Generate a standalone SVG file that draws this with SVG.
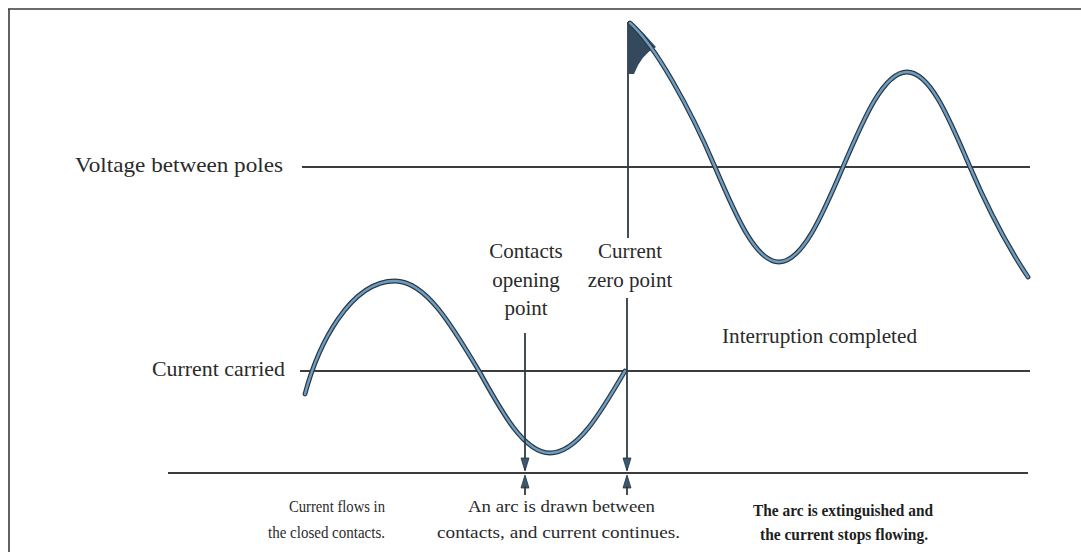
<svg xmlns="http://www.w3.org/2000/svg" xmlns:xlink="http://www.w3.org/1999/xlink" width="1081" height="552" viewBox="0 0 1081 552">
<style>
.frame{stroke:#3a3a3a;stroke-width:1.6;fill:none}
.axis{stroke:#3c3c3c;stroke-width:2;fill:none}
.mk{stroke:#2e3a46;stroke-width:1.8;fill:none}
.head{fill:#3b5870;stroke:#26323e;stroke-width:0.8}
.wout{stroke:#2a3744;stroke-width:4.8;fill:none;stroke-linecap:round}
.win{stroke:#6d9dc0;stroke-width:2.4;fill:none;stroke-linecap:round}
.t{font-family:"Liberation Serif","Times New Roman",serif;fill:#2a2a2a}
.l{font-size:22px}
.m{font-size:21px}
.s{font-size:16px}
.b{font-size:16px;font-weight:bold;fill:#1e1e1e}
</style>
<defs>
<path id="vwave" d="M630,23 C655,45 690,108 715,167 C735.8,215.7 755.7,262 779,262 C802.1,262 822.2,215.7 843,167 C863.8,118.3 883.7,72 907,72 C930.1,72 949.2,118.3 970,167 C990.8,215.7 1010,250 1028,277"/>
<path id="iwave" d="M305,394 C318,345 350,281 395,281 C425.4,281 451.6,324.9 479,371 C502.2,413 524.3,453 550,453 C577.2,453 600.5,413 625,371"/>
</defs>
<rect width="1081" height="552" fill="#ffffff"/>
<g id="frame">
<line class="frame" x1="8" y1="9" x2="1081" y2="9"/>
<line class="frame" x1="9" y1="9" x2="9" y2="552"/>
</g>
<g id="axes">
<line class="axis" x1="302" y1="167" x2="1030" y2="167"/>
<line class="axis" x1="300" y1="371" x2="1030" y2="371"/>
<line class="axis" x1="168" y1="473" x2="1028" y2="473"/>
</g>
<g id="current-wave">
<use xlink:href="#iwave" class="wout"/>
<use xlink:href="#iwave" class="win"/>
</g>
<g id="voltage-wave">
<line class="mk" x1="628" y1="22" x2="628" y2="238" stroke-width="2.4"/>
<path d="M628,21 L632,22 Q645,34 656,47 Q641,55 634,74 L628,74 Z" fill="#34495c"/>
<use xlink:href="#vwave" class="wout"/>
<use xlink:href="#vwave" class="win"/>
</g>
<g id="connectors">
<line class="mk" x1="525" y1="333" x2="525" y2="470"/>
<polygon class="head" points="521,458 529,458 525,471"/>
<polygon class="head" points="521,488 529,488 525,475"/>
<line class="mk" x1="525" y1="486" x2="525" y2="495"/>
<line class="mk" x1="627" y1="298" x2="627" y2="470"/>
<polygon class="head" points="623,458 631,458 627,471"/>
<polygon class="head" points="623,488 631,488 627,475"/>
<line class="mk" x1="627" y1="486" x2="627" y2="495"/>
</g>
<g id="label-voltage"><text class="t l" x="75" y="172" textLength="208" lengthAdjust="spacingAndGlyphs">Voltage between poles</text></g>
<g id="label-current"><text class="t l" x="152" y="376" textLength="133" lengthAdjust="spacingAndGlyphs">Current carried</text></g>
<g id="label-contacts">
<text class="t m" x="526" y="258" text-anchor="middle">Contacts</text>
<text class="t m" x="526" y="287" text-anchor="middle">opening</text>
<text class="t m" x="526" y="315" text-anchor="middle">point</text>
</g>
<g id="label-zero">
<text class="t m" x="630" y="258" text-anchor="middle">Current</text>
<text class="t m" x="630" y="287" text-anchor="middle">zero point</text>
</g>
<g id="label-interruption"><text class="t m" x="722" y="343" textLength="195" lengthAdjust="spacingAndGlyphs">Interruption completed</text></g>
<g id="note-closed">
<text class="t s" x="289" y="512" textLength="96" lengthAdjust="spacingAndGlyphs">Current flows in</text>
<text class="t s" x="268" y="538" textLength="117" lengthAdjust="spacingAndGlyphs">the closed contacts.</text>
</g>
<g id="note-arc">
<text class="t s" x="468" y="512" textLength="187" lengthAdjust="spacingAndGlyphs">An arc is drawn between</text>
<text class="t s" x="437" y="538" textLength="243" lengthAdjust="spacingAndGlyphs">contacts, and current continues.</text>
</g>
<g id="note-extinguished">
<text class="t b" x="753" y="516" textLength="180" lengthAdjust="spacingAndGlyphs">The arc is extinguished and</text>
<text class="t b" x="760" y="540" textLength="168" lengthAdjust="spacingAndGlyphs">the current stops flowing.</text>
</g>
</svg>
